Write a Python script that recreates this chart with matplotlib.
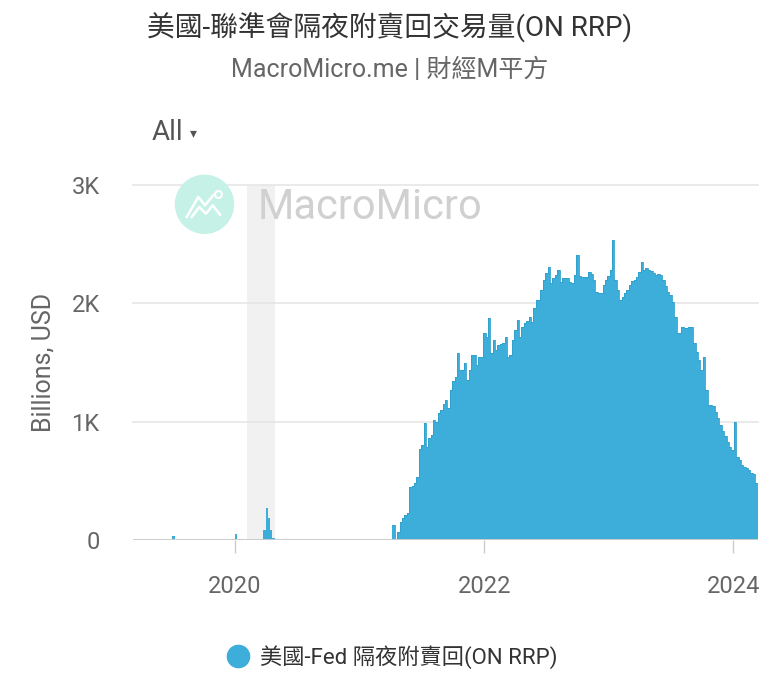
import matplotlib
matplotlib.use('Agg')
import matplotlib.pyplot as plt
from matplotlib.lines import Line2D
from matplotlib.patches import Circle
import pandas as pd

plt.rcParams['font.family'] = ['Roboto', 'Noto Sans CJK TC', 'DejaVu Sans']

BLUE = '#3caed9'
EDGE = '#2f9fcb'

# sparse early observations (Billions, USD)
early_dates = ['2019-07-01', '2019-12-31', '2020-03-24', '2020-03-31',
               '2020-04-06', '2020-04-13', '2020-04-20', '2020-04-27']
early_values = [30, 50, 85, 270, 185, 85, 20, 10]

# weekly series from the 2021 restart
weekly_start = '2021-04-07'
weekly_values = [
    127, 10, 70, 155, 185, 210, 230, 450, 460, 480,
    535, 770, 800, 990, 790, 860, 890, 1015, 1000, 1070,
    1100, 1150, 1180, 1115, 1270, 1340, 1380, 1580, 1435, 1440,
    1495, 1350, 1435, 1560, 1560, 1480, 1545, 1550, 1750, 1715,
    1875, 1580, 1690, 1605, 1650, 1660, 1665, 1715, 1545, 1560,
    1690, 1775, 1860, 1715, 1800, 1830, 1850, 1885, 1845, 1960,
    2030, 2030, 2115, 2200, 2255, 2310, 2170, 2210, 2240, 2280,
    2180, 2210, 2215, 2215, 2180, 2170, 2240, 2410, 2230, 2225,
    2225, 2225, 2265, 2250, 2200, 2100, 2085, 2085, 2155, 2200,
    2230, 2280, 2535, 2200, 2115, 2030, 2055, 2085, 2115, 2155,
    2190, 2200, 2225, 2265, 2350, 2280, 2295, 2280, 2270, 2255,
    2240, 2250, 2240, 2200, 2150, 2100, 2070, 2015, 1885, 1750,
    1750, 1800, 1790, 1790, 1800, 1800, 1665, 1590, 1520, 1435,
    1545, 1270, 1140, 1140, 1130, 1080, 1030, 970, 920, 880,
    830, 790, 760, 1000, 700, 675, 635, 620, 610, 590,
    570, 560, 480,
]

recession = ('2020-02-05', '2020-04-28')
x_range = ('2019-03-08', '2024-03-14')
y_ticks = [0, 1000, 2000, 3000]
y_tick_labels = ['0', '1K', '2K', '3K']
x_tick_years = [2020, 2022, 2024]

fig = plt.figure(figsize=(7.8, 6.9), dpi=100)
ax = fig.add_axes([133 / 780, 1 - 540 / 690, 625 / 780, 355 / 690])

# recession shading
ax.axvspan(pd.Timestamp(recession[0]), pd.Timestamp(recession[1]),
           color='#f1f1f1', zorder=0, linewidth=0)

# grid lines
for yt in y_ticks[1:]:
    ax.axhline(yt, color='#e6e6e6', linewidth=1.2, zorder=1, clip_on=False)
ax.axhline(0, color='#cccccc', linewidth=1.4, zorder=4)

# early spikes
ax.bar(pd.to_datetime(early_dates), early_values, width=7, align='edge',
       color=BLUE, linewidth=0, zorder=3)

# weekly data drawn as steps
dates = pd.date_range(weekly_start, periods=len(weekly_values), freq='7D')
dates_ext = list(dates) + [dates[-1] + pd.Timedelta(days=7)]
vals_ext = list(weekly_values) + [weekly_values[-1]]
ax.fill_between(dates_ext, vals_ext, step='post', color=BLUE,
                linewidth=0, zorder=3)
ax.step(dates_ext, vals_ext, where='post', color=EDGE, linewidth=0.6, zorder=3)

ax.set_xlim(pd.Timestamp(x_range[0]), pd.Timestamp(x_range[1]))
ax.set_ylim(0, 3000)

ax.set_yticks(y_ticks)
ax.set_yticklabels(y_tick_labels)
ax.set_xticks([pd.Timestamp(f'{y}-01-01') for y in x_tick_years])
ax.set_xticklabels([str(y) for y in x_tick_years])

ax.tick_params(axis='y', length=0, pad=24, labelsize=17, labelcolor='#666666')
ax.tick_params(axis='x', length=9, width=1, color='#cccccc', pad=16,
               labelsize=17, labelcolor='#666666')
for s in ax.spines.values():
    s.set_visible(False)
ax.patch.set_alpha(0)

# watermark logo and name
fig.patches.append(Circle((2.045, 6.9 - 2.043), 0.29,
                          transform=fig.dpi_scale_trans, color='#c6f1e7',
                          zorder=0))
fig.lines.append(Line2D([1.867, 1.983, 2.05, 2.133],
                        [4.73, 4.93, 4.847, 4.947],
                        transform=fig.dpi_scale_trans, color='white',
                        linewidth=1.8, zorder=1))
fig.lines.append(Line2D([2.177], [4.963], marker='o', markersize=5,
                        markerfacecolor='none', markeredgecolor='white',
                        markeredgewidth=1.5, linestyle='none',
                        transform=fig.dpi_scale_trans, zorder=1))
fig.lines.append(Line2D([1.917, 1.993, 2.06, 2.127, 2.20],
                        [4.73, 4.83, 4.763, 4.847, 4.753],
                        transform=fig.dpi_scale_trans, color='white',
                        linewidth=1.8, zorder=1))
fig.text(258 / 780, 1 - 207 / 690, 'MacroMicro', fontsize=30,
         color='#d0d0d0', ha='left', va='center', zorder=0)

# titles
fig.text(0.5, 1 - 28 / 690, '美國-聯準會隔夜附賣回交易量(ON RRP)',
         fontsize=20, color='#333333', ha='center', va='center')
fig.text(0.5, 1 - 70 / 690, 'MacroMicro.me | 財經M平方',
         fontsize=18, color='#666666', ha='center', va='center')
fig.text(152 / 780, 1 - 133 / 690, 'All', fontsize=20, color='#555555',
         ha='left', va='center')
fig.text(190 / 780, 1 - 133 / 690, '▾', fontsize=10, color='#555555',
         ha='left', va='center')

fig.text(43 / 780, 1 - 362 / 690, 'Billions, USD', rotation=90,
         fontsize=18, color='#666666', ha='center', va='center')

# legend
handle = Line2D([], [], marker='o', linestyle='none', markersize=16,
                color=BLUE)
fig.legend([handle], ['美國-Fed 隔夜附賣回(ON RRP)'], loc='center left',
           bbox_to_anchor=(216 / 780, 1 - 657 / 690), frameon=False,
           fontsize=16, handletextpad=0.5, borderpad=0, handlelength=1.0,
           labelcolor='#333333')

fig.savefig('out.png', dpi=100)
